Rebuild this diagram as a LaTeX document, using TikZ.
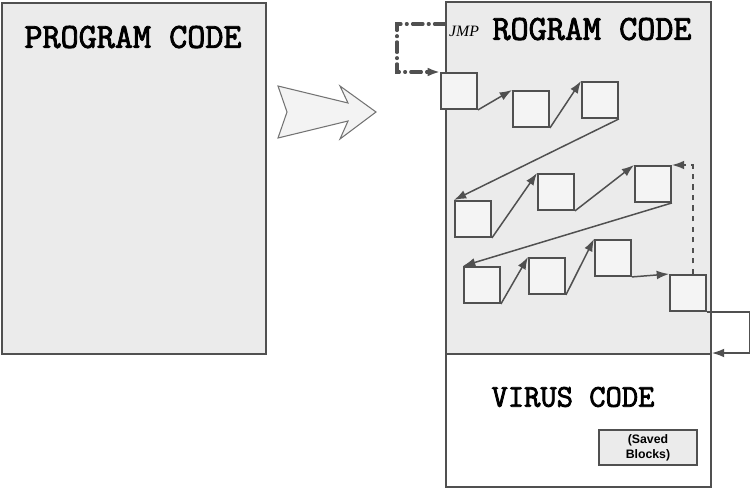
\documentclass[tikz,border=0pt]{standalone}
\usepackage{fontspec}
\usetikzlibrary{arrows.meta}
\newfontfamily\codefont[FakeBold=2.5]{Latin Modern Mono}
\newfontfamily\jmpfont{Liberation Serif}
\newfontfamily\notefont{Liberation Sans}
\definecolor{edge}{HTML}{505050}
\definecolor{boxfill}{HTML}{EBEBEB}
\definecolor{blockfill}{HTML}{F4F4F4}

\begin{document}
\begin{tikzpicture}[x=0.02cm, y=-0.02cm,
  >={Latex[length=7pt,width=5pt]},
  codebox/.style={draw=edge, line width=1.1pt, fill=boxfill, anchor=north west, minimum width=5.28cm, minimum height=7.02cm, inner sep=0pt},
  blk/.style={draw=edge, line width=1.1pt, fill=blockfill, anchor=north west, minimum width=0.72cm, minimum height=0.72cm, inner sep=0pt},
  title/.style={font=\codefont\bfseries\fontsize{20}{22}\selectfont},
  flow/.style={->, draw=edge, line width=0.85pt}
]
\useasboundingbox (0,0) rectangle (750,487);

% Original program
\node[codebox] (left) at (1,2) {};
\node[title] at (133,37) {PROGRAM CODE};

% Big arrow
\draw[draw=edge!80, fill=boxfill!60, line width=0.6pt]
  (278,86) -- (348,103) -- (340,86) -- (376,112) -- (340,139) -- (348,121) -- (278,138) -- (287,112) -- cycle;

% Infected program
\node[codebox, minimum width=5.3cm, minimum height=7.04cm] (right) at (445,1) {};
\node[codebox, fill=white, minimum width=5.3cm, minimum height=2.66cm] (vbox) at (445,353) {};
\node[title] at (592,29) {ROGRAM CODE};
\node[font=\jmpfont\itshape\fontsize{9}{10}\selectfont] (jmp) at (464,31) {JMP};
\node[title, font=\codefont\bfseries\fontsize{18}{20}\selectfont] at (573,397) {VIRUS CODE};
\node[draw=edge, line width=1.1pt, fill=boxfill, anchor=north west, minimum width=1.96cm, minimum height=0.7cm, align=center, inner sep=0pt,
  font=\notefont\bfseries\fontsize{7}{8.5}\selectfont] (saved) at (598,429) {(Saved\\Blocks)};

% Blocks
\node[blk] (b1) at (440,72) {};
\node[blk] (b2) at (512,90) {};
\node[blk] (b3) at (581,81) {};
\node[blk] (b4) at (454,200) {};
\node[blk] (b5) at (537,173) {};
\node[blk] (b6) at (634,165) {};
\node[blk] (b7) at (463,266) {};
\node[blk] (b8) at (528,257) {};
\node[blk] (b9) at (594,239) {};
\node[blk] (b10) at (669,274) {};

% Flow between blocks
\draw[flow] (b1.south east) -- (b2.north west);
\draw[flow] (b2.south east) -- (b3.north west);
\draw[flow] (b3.south east) -- (b4.north west);
\draw[flow] (b4.south east) -- (b5.north west);
\draw[flow] (b5.south east) -- (b6.north west);
\draw[flow] (b6.south east) -- (b7.north west);
\draw[flow] (b7.south east) -- (b8.north west);
\draw[flow] (b8.south east) -- (b9.north west);
\draw[flow] (b9.south east) -- (b10.north west);
\draw[flow, dashed] ([xshift=0.1cm]b10.north) |- (b6.north east);
\draw[flow] (b10.south east) -- ++(43,0) |- (vbox.north east);

% Jump into first block
\coordinate (jmpstart) at (445,24);
\draw[->, draw=edge, line width=1.8pt, line cap=round, dash pattern=on 6pt off 3pt on 0.5pt off 3pt]
  (jmpstart) -- ++(-48,0) |- (b1.north west);
\end{tikzpicture}
\end{document}
